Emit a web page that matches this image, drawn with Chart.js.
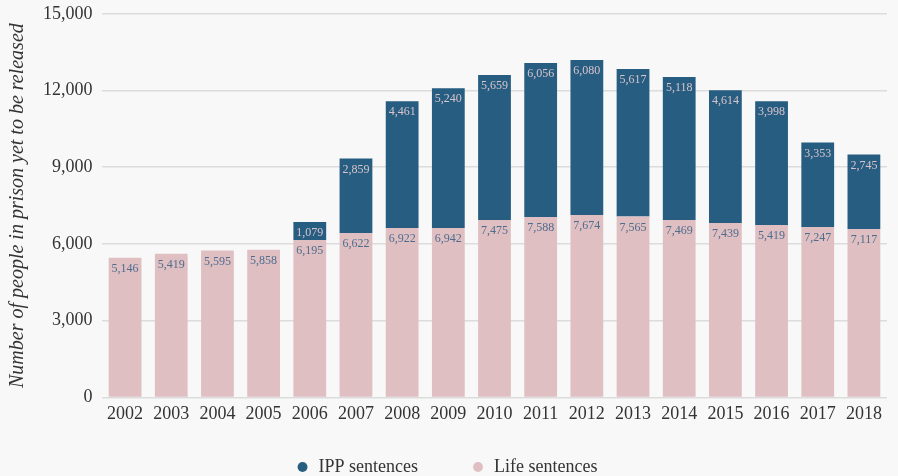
<!DOCTYPE html>
<html>
<head>
<meta charset="utf-8">
<script src="https://cdn.jsdelivr.net/npm/chart.js@4/dist/chart.umd.min.js"></script>
<style>
  html, body { margin: 0; padding: 0; background: #f8f8f8; }
  #wrap { width: 898px; height: 476px; }
</style>
</head>
<body>
<div id="wrap"><canvas id="prisonChart"></canvas></div>
<script>
const years = ["2002","2003","2004","2005","2006","2007","2008","2009","2010","2011","2012","2013","2014","2015","2016","2017","2018"];

// bar heights as drawn
const lifeValues = [5458, 5615, 5744, 5771, 6154, 6429, 6626, 6626, 6941, 7059, 7137, 7071, 6941, 6823, 6744, 6665, 6587];
const ippValues = [0, 0, 0, 0, 708, 2910, 4955, 5466, 5662, 6016, 6056, 5768, 5583, 5190, 4837, 3303, 2909];

// numbers printed on the bars
const lifeLabels = [5146, 5419, 5595, 5858, 6195, 6622, 6922, 6942, 7475, 7588, 7674, 7565, 7469, 7439, 5419, 7247, 7117];
const ippLabels = [null, null, null, null, 1079, 2859, 4461, 5240, 5659, 6056, 6080, 5617, 5118, 4614, 3998, 3353, 2745];

const yTicks = [0, 3000, 6000, 9000, 12000, 15000];

const serif = "'Liberation Serif', 'DejaVu Serif', serif";

const barLabels = {
  id: "barLabels",
  afterDatasetsDraw(chart) {
    const ctx = chart.ctx;
    ctx.save();
    ctx.font = "12px " + serif;
    ctx.textAlign = "center";
    ctx.textBaseline = "middle";
    chart.data.datasets.forEach((ds, di) => {
      const meta = chart.getDatasetMeta(di);
      meta.data.forEach((bar, i) => {
        const v = ds.labelValues[i];
        if (v == null) return;
        ctx.fillStyle = ds.labelColor;
        ctx.fillText(v.toLocaleString("en-US"), bar.x, bar.y + 11);
      });
    });
    ctx.restore();
  }
};

new Chart(document.getElementById("prisonChart").getContext("2d"), {
  type: "bar",
  data: {
    labels: years,
    datasets: [
      {
        label: "Life sentences",
        data: lifeValues,
        backgroundColor: "#e0bfc2",
        labelValues: lifeLabels,
        labelColor: "#4e6d8c"
      },
      {
        label: "IPP sentences",
        data: ippValues,
        backgroundColor: "#265d80",
        labelValues: ippLabels,
        labelColor: "#d8c4cc"
      }
    ]
  },
  options: {
    responsive: true,
    maintainAspectRatio: false,
    animation: false,
    layout: { padding: { top: 0, right: 11, left: 6, bottom: -10 } },
    datasets: {
      bar: { barPercentage: 0.71, categoryPercentage: 1.0 }
    },
    plugins: {
      tooltip: { enabled: false },
      legend: {
        position: "bottom",
        reverse: true,
        labels: {
          usePointStyle: true,
          pointStyle: "circle",
          boxWidth: 14,
          boxHeight: 7,
          padding: 26,
          color: "#333333",
          font: { family: serif, size: 18 },
          // a little extra room after the first item
          generateLabels(chart) {
            const items = Chart.defaults.plugins.legend.labels.generateLabels(chart);
            items.forEach(it => {
              if (it.datasetIndex === 1) it.text += "\u00a0\u00a0\u00a0\u00a0\u00a0\u00a0";
            });
            return items;
          }
        }
      }
    },
    scales: {
      x: {
        stacked: true,
        grid: { display: false, drawTicks: false },
        border: { display: false },
        ticks: {
          color: "#333333",
          padding: 6.5,
          font: { family: serif, size: 18 }
        }
      },
      y: {
        stacked: true,
        min: 0,
        max: 15000,
        afterBuildTicks(axis) {
          axis.ticks = yTicks.map(v => ({ value: v }));
        },
        grid: {
          color: "#dcdcdc",
          lineWidth: 1.5,
          drawTicks: true,
          tickLength: 6.5,
          tickColor: "rgba(0,0,0,0)"
        },
        border: { display: false },
        ticks: {
          color: "#333333",
          padding: 3,
          font: { family: serif, size: 18 }
        },
        title: {
          display: true,
          text: "Number of people in prison yet to be released",
          color: "#333333",
          padding: { top: 0, bottom: 10 },
          font: { family: serif, size: 20, style: "italic" }
        }
      }
    }
  },
  plugins: [barLabels]
});
</script>
</body>
</html>
